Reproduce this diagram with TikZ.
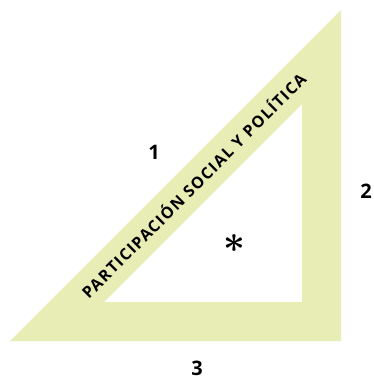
\documentclass[tikz,border=0pt]{standalone}
\usepackage{fontspec}
\setmainfont{Open Sans}
\definecolor{bandgreen}{RGB}{231,237,180}

\begin{document}
\begin{tikzpicture}[x=1pt,y=-1pt]
\tikzstyle{every node}=[inner sep=0pt,font=\bfseries];
\useasboundingbox (0,0) rectangle (374,377);
% corners of the set square
\coordinate (A) at(10,341);
\coordinate (B) at(341,341);
\coordinate (C) at(341,10);
\coordinate (D) at(104,302);
\coordinate (E) at(302,302);
\coordinate (F) at(302,104);

\fill[bandgreen,even odd rule] (A)--(B)--(C)--cycle (D)--(E)--(F)--cycle;

\node[rotate=45,font=\bfseries\fontsize{16}{16}\selectfont\addfontfeature{LetterSpace=8}](T) at(193,185){PARTICIPACIÓN SOCIAL Y POLÍTICA};

\node[font=\bfseries\fontsize{20}{20}\selectfont](L1) at(154,152){1};
\node[font=\bfseries\fontsize{20}{20}\selectfont](L2) at(366,191){2};
\node[font=\bfseries\fontsize{20}{20}\selectfont](L3) at(197,368){3};
\node[font=\boldmath,scale=3.8](star) at(234,244){$\ast$};

\end{tikzpicture}
\end{document}
